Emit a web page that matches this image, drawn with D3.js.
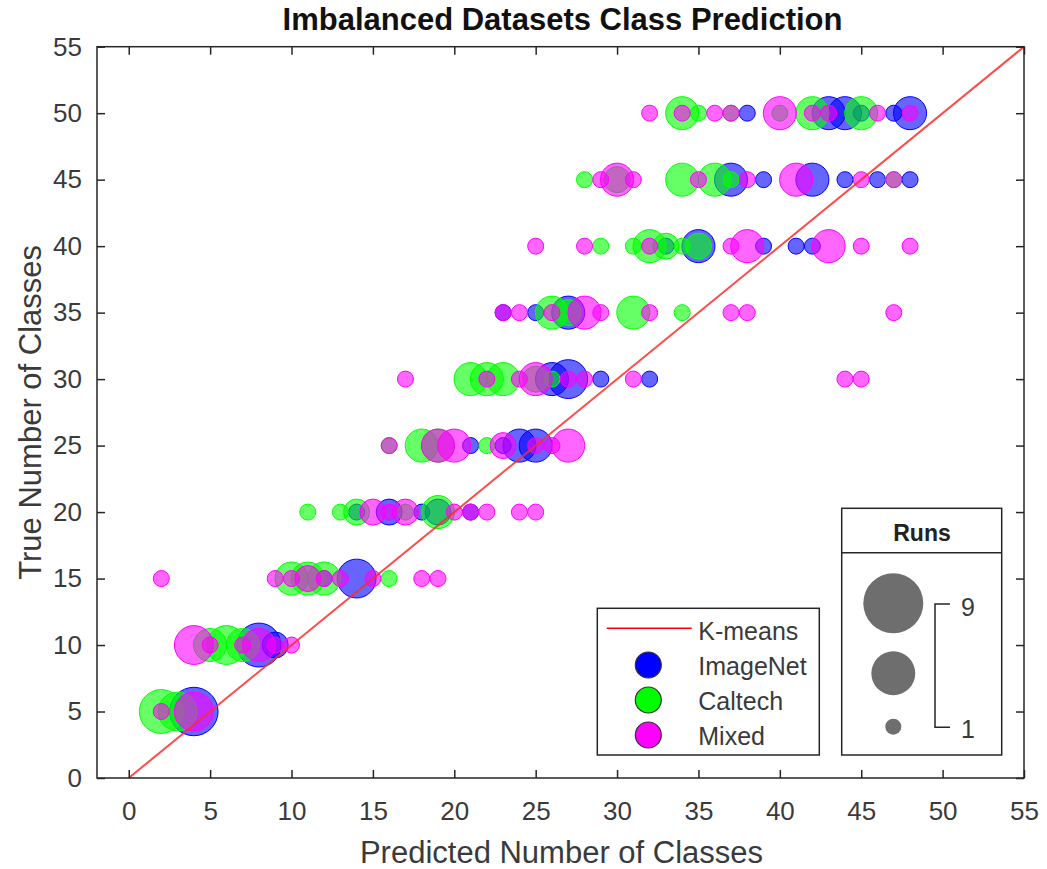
<!DOCTYPE html>
<html>
<head>
<meta charset="utf-8">
<script src="https://cdn.jsdelivr.net/npm/d3@7"></script>
<style>
  body { margin: 0; background: #fff; }
  text { font-family: "Liberation Sans", Arial, Helvetica, sans-serif; }
</style>
</head>
<body>
<div id="chart"></div>
<script>
// [predicted, true, runs]
const imagenet = [
  [4, 5, 6],
  [8, 10, 5], [9, 10, 2],
  [12, 15, 1], [14, 15, 4],
  [14, 20, 1], [16, 20, 2], [18, 20, 1], [19, 20, 2], [21, 20, 1],
  [21, 25, 1], [23, 25, 1], [24, 25, 3], [25, 25, 3],
  [26, 30, 3], [27, 30, 4], [29, 30, 1], [32, 30, 1],
  [23, 35, 1], [25, 35, 1], [27, 35, 3],
  [33, 40, 1], [35, 40, 3], [39, 40, 1], [41, 40, 1], [42, 40, 1],
  [37, 45, 3], [39, 45, 1], [42, 45, 3], [44, 45, 1], [46, 45, 1], [48, 45, 1],
  [38, 50, 1], [43, 50, 3], [44, 50, 3], [45, 50, 1], [47, 50, 1], [48, 50, 3]
]

const caltech = [
  [2, 5, 5], [3, 5, 4],
  [5, 10, 3], [6, 10, 4], [7, 10, 3],
  [10, 15, 3], [11, 15, 3], [12, 15, 3], [16, 15, 1],
  [11, 20, 1], [13, 20, 1], [14, 20, 2], [17, 20, 1], [19, 20, 3],
  [16, 25, 1], [18, 25, 3], [19, 25, 3], [22, 25, 1],
  [21, 30, 3], [22, 30, 3], [23, 30, 3], [25, 30, 2], [26, 30, 1],
  [26, 35, 3], [27, 35, 2], [31, 35, 3], [34, 35, 1],
  [29, 40, 1], [31, 40, 1], [32, 40, 3], [33, 40, 2], [34, 40, 1], [35, 40, 2],
  [28, 45, 1], [30, 45, 2], [34, 45, 3], [36, 45, 3], [37, 45, 1], [47, 45, 1],
  [34, 50, 3], [35, 50, 1], [37, 50, 1], [40, 50, 1], [42, 50, 3], [45, 50, 3]
]

const mixed = [
  [2, 5, 1], [4, 5, 4],
  [4, 10, 4], [5, 10, 1], [7, 10, 1], [8, 10, 3], [9, 10, 1], [10, 10, 1],
  [2, 15, 1], [9, 15, 1], [10, 15, 1], [11, 15, 2], [12, 15, 1], [13, 15, 1], [15, 15, 1], [18, 15, 1], [19, 15, 1],
  [15, 20, 2], [16, 20, 1], [17, 20, 2], [20, 20, 1], [21, 20, 1], [22, 20, 1], [24, 20, 1], [25, 20, 1],
  [16, 25, 1], [19, 25, 3], [20, 25, 3], [23, 25, 2], [25, 25, 1], [26, 25, 1], [27, 25, 3],
  [17, 30, 1], [22, 30, 1], [24, 30, 1], [25, 30, 3], [27, 30, 1], [28, 30, 1], [31, 30, 1], [44, 30, 1], [45, 30, 1],
  [23, 35, 1], [24, 35, 1], [26, 35, 1], [28, 35, 3], [29, 35, 1], [32, 35, 1], [37, 35, 1], [38, 35, 1], [47, 35, 1],
  [25, 40, 1], [28, 40, 1], [32, 40, 1], [37, 40, 1], [38, 40, 3], [43, 40, 3], [45, 40, 1], [48, 40, 1],
  [29, 45, 1], [30, 45, 3], [31, 45, 1], [35, 45, 1], [38, 45, 1], [41, 45, 3], [45, 45, 1], [47, 45, 1],
  [32, 50, 1], [34, 50, 1], [36, 50, 1], [37, 50, 1], [40, 50, 3], [42, 50, 1], [43, 50, 1], [46, 50, 1], [48, 50, 1]
]

const kmeansLine = [0, 55]
const seriesNames = ['ImageNet', 'Caltech', 'Mixed']
const seriesColors = ['#0000ff', '#00ff00', '#ff00ff']
const xTicks = [0, 5, 10, 15, 20, 25, 30, 35, 40, 45, 50, 55]
const yTicks = [0, 5, 10, 15, 20, 25, 30, 35, 40, 45, 50, 55]
const runsLegend = [9, 5, 1]

const width = 1047, height = 869
const box = { left: 97, right: 1024, top: 46.7, bottom: 778 }
const axisColor = '#262626'
const textColor = '#3a3a3a'

const svg = d3.select('#chart').append('svg')
  .attr('width', width)
  .attr('height', height)

const x = d3.scaleLinear().domain([-1.95, 55]).range([box.left, box.right])
const y = d3.scaleLinear().domain([0, 55]).range([box.bottom, box.top])
const r = d3.scaleRadial().domain([1, 9]).range([8, 30])

svg.append('clipPath').attr('id', 'plot-clip')
  .append('rect')
  .attr('x', box.left).attr('y', box.top)
  .attr('width', box.right - box.left).attr('height', box.bottom - box.top)

// 버블
const plot = svg.append('g').attr('clip-path', 'url(#plot-clip)')
;[imagenet, caltech, mixed].forEach((data, i) => {
  const sorted = data.slice().sort((a, b) => b[2] - a[2])
  plot.append('g').selectAll('circle')
    .data(sorted)
    .join('circle')
    .attr('cx', d => x(d[0]))
    .attr('cy', d => y(d[1]))
    .attr('r', d => r(d[2]))
    .attr('fill', seriesColors[i])
    .attr('fill-opacity', 0.6)
    .attr('stroke', seriesColors[i])
    .attr('stroke-width', 1)
})

// K-means 대각선
plot.append('path')
  .datum(kmeansLine)
  .attr('d', d3.line().x(d => x(d)).y(d => y(d)))
  .attr('stroke', '#ff2a2a')
  .attr('stroke-opacity', 0.85)
  .attr('stroke-width', 2)
  .attr('fill', 'none')

// 축
function styleAxis(g) {
  g.select('.domain').remove()
  g.selectAll('.tick line').attr('stroke', axisColor).attr('stroke-width', 1.5)
  g.selectAll('.tick text').attr('fill', textColor).attr('font-size', '26px')
    .attr('font-family', '"Liberation Sans", Arial, sans-serif')
}

svg.append('g')
  .attr('transform', `translate(0,${box.bottom})`)
  .call(d3.axisBottom(x).tickValues(xTicks).tickSize(-8).tickPadding(24))
  .call(styleAxis)
svg.append('g')
  .attr('transform', `translate(0,${box.top})`)
  .call(d3.axisTop(x).tickValues(xTicks).tickSize(-8).tickFormat(''))
  .call(styleAxis)
svg.append('g')
  .attr('transform', `translate(${box.left},0)`)
  .call(d3.axisLeft(y).tickValues(yTicks).tickSize(-8).tickPadding(15))
  .call(styleAxis)
svg.append('g')
  .attr('transform', `translate(${box.right},0)`)
  .call(d3.axisRight(y).tickValues(yTicks).tickSize(-8).tickFormat(''))
  .call(styleAxis)

svg.append('rect')
  .attr('x', box.left).attr('y', box.top)
  .attr('width', box.right - box.left).attr('height', box.bottom - box.top)
  .attr('fill', 'none')
  .attr('stroke', axisColor)
  .attr('stroke-width', 1.5)

// 제목과 축 이름
const cx = (box.left + box.right) / 2
svg.append('text')
  .attr('x', cx + 2).attr('y', 19).attr('dy', '0.35em')
  .attr('text-anchor', 'middle')
  .attr('font-size', '31px').attr('font-weight', 'bold').attr('fill', '#111')
  .text('Imbalanced Datasets Class Prediction')

svg.append('text')
  .attr('x', cx + 1).attr('y', 852).attr('dy', '0.35em')
  .attr('text-anchor', 'middle')
  .attr('font-size', '31px').attr('fill', textColor)
  .text('Predicted Number of Classes')

svg.append('text')
  .attr('transform', `translate(30,${(box.top + box.bottom) / 2}) rotate(-90)`)
  .attr('dy', '0.35em')
  .attr('text-anchor', 'middle')
  .attr('font-size', '31px').attr('fill', textColor)
  .text('True Number of Classes')

// 범례
const leg = svg.append('g')
leg.append('rect')
  .attr('x', 597.3).attr('y', 608.3).attr('width', 222).attr('height', 146.7)
  .attr('fill', '#fff').attr('stroke', axisColor).attr('stroke-width', 1.5)
leg.append('line')
  .attr('x1', 606.7).attr('x2', 691.7).attr('y1', 628.3).attr('y2', 628.3)
  .attr('stroke', '#ff0000').attr('stroke-width', 1.5)
leg.append('text')
  .attr('x', 698.3).attr('y', 631).attr('dy', '0.35em')
  .attr('font-size', '25px').attr('fill', textColor)
  .text('K-means')
seriesNames.forEach((name, i) => {
  const ly = 665 + i * 35
  leg.append('circle')
    .attr('cx', 648.3).attr('cy', ly).attr('r', 13)
    .attr('fill', seriesColors[i]).attr('stroke', '#333').attr('stroke-width', 1.2)
  leg.append('text')
    .attr('x', 698.3).attr('y', ly + 1).attr('dy', '0.35em')
    .attr('font-size', '25px').attr('fill', textColor)
    .text(name)
})

// 버블 크기 범례
const runs = svg.append('g')
runs.append('rect')
  .attr('x', 841.7).attr('y', 508.3).attr('width', 160).attr('height', 246.7)
  .attr('fill', '#fff').attr('stroke', axisColor).attr('stroke-width', 1.5)
runs.append('line')
  .attr('x1', 841.7).attr('x2', 1001.7).attr('y1', 552.7).attr('y2', 552.7)
  .attr('stroke', axisColor).attr('stroke-width', 1.5)
runs.append('text')
  .attr('x', 922).attr('y', 533).attr('dy', '0.35em')
  .attr('text-anchor', 'middle')
  .attr('font-size', '23px').attr('font-weight', 'bold').attr('fill', '#222')
  .text('Runs')
const runsY = [603.3, 673.3, 726.7]
runsLegend.forEach((v, i) => {
  runs.append('circle')
    .attr('cx', 893.3).attr('cy', runsY[i]).attr('r', r(v))
    .attr('fill', '#6e6e6e')
})
runs.append('path')
  .attr('d', `M950,604 H935 V727.3 H950`)
  .attr('fill', 'none').attr('stroke', axisColor).attr('stroke-width', 1.5)
runs.append('text')
  .attr('x', 961).attr('y', 607).attr('dy', '0.35em')
  .attr('font-size', '25px').attr('fill', textColor)
  .text(runsLegend[0])
runs.append('text')
  .attr('x', 961).attr('y', 729).attr('dy', '0.35em')
  .attr('font-size', '25px').attr('fill', textColor)
  .text(runsLegend[runsLegend.length - 1])
</script>
</body>
</html>
